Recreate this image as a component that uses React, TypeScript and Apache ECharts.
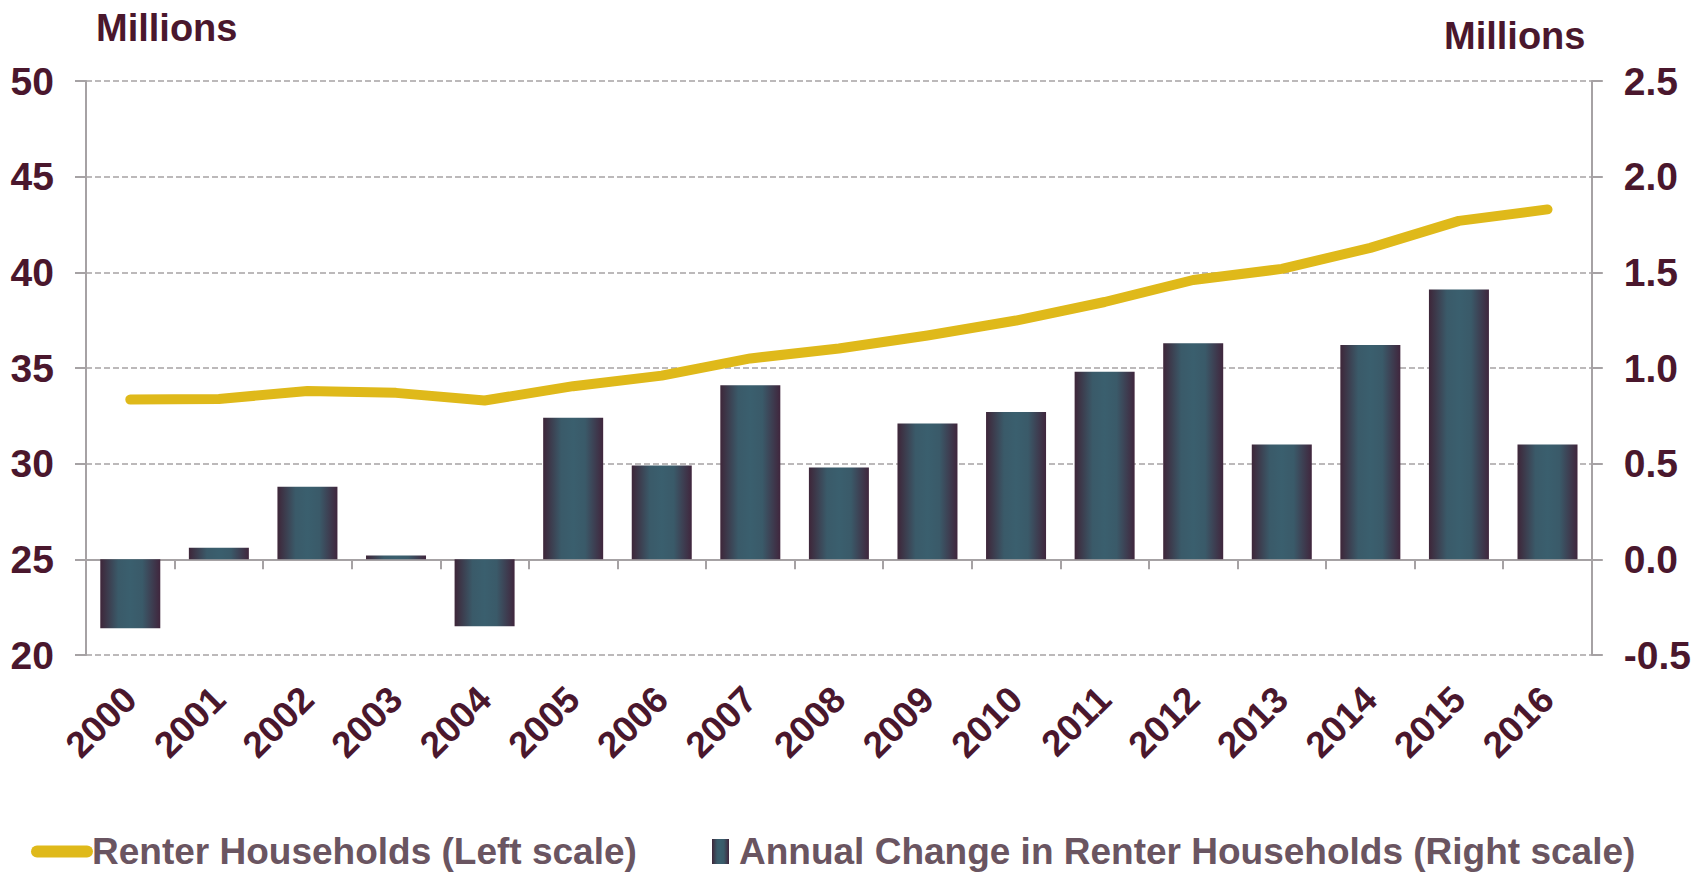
import React, { useEffect, useRef } from "react";
import * as echarts from "echarts";

const years = ["2000", "2001", "2002", "2003", "2004", "2005", "2006", "2007", "2008", "2009", "2010", "2011", "2012", "2013", "2014", "2015", "2016"];
const renterHouseholds = [33.35, 33.38, 33.8, 33.7, 33.3, 34.05, 34.6, 35.5, 36.02, 36.7, 37.48, 38.45, 39.6, 40.18, 41.28, 42.69, 43.29];
const annualChange = [-0.36, 0.06, 0.38, 0.02, -0.35, 0.74, 0.49, 0.91, 0.48, 0.71, 0.77, 0.98, 1.13, 0.6, 1.12, 1.41, 0.6];
const leftTicks = { min: 20, max: 50, interval: 5 };
const rightTicks = { min: -0.5, max: 2.5, interval: 0.5 };
const lineName = "Renter Households (Left scale)";
const barName = "Annual Change in Renter Households (Right scale)";
const unitLabel = "Millions";

const FONT = "'Liberation Sans', Arial, sans-serif";
const MAROON = "#4a172d";
const LEGEND_TEXT = "#6a5561";
const GOLD = "#dfb91a";
const AXIS_GRAY = "#a6a2a4";

export default function App() {
  const ref = useRef<HTMLDivElement>(null);
  useEffect(() => {
    document.body.style.margin = "0";
    if (!ref.current) return;
    const chart = echarts.init(ref.current, null, { renderer: "svg" });
    const barGradient = new echarts.graphic.LinearGradient(0, 0, 1, 0, [
      { offset: 0, color: "#3e2639" },
      { offset: 0.3, color: "#3a5a69" },
      { offset: 0.5, color: "#3a5f6e" },
      { offset: 0.7, color: "#3a5a69" },
      { offset: 1, color: "#40263d" },
    ]);
    chart.setOption({
      animation: false,
      textStyle: { fontFamily: FONT },
      grid: { left: 86, right: 99, top: 81, bottom: 217, containLabel: false },
      graphic: [
        {
          type: "text",
          left: 96,
          top: 9,
          style: { text: unitLabel, font: `bold 38px ${FONT}`, fill: MAROON },
        },
        {
          type: "text",
          left: 1444,
          top: 17,
          style: { text: unitLabel, font: `bold 38px ${FONT}`, fill: MAROON },
        },
      ],
      legend: [
        {
          data: [
            {
              name: lineName,
              icon: "path://M6,0 H56 A6,6 0 0 1 56,12 H6 A6,6 0 0 1 6,0 Z",
              itemStyle: { color: GOLD },
            },
          ],
          left: 26,
          top: 828,
          itemWidth: 62,
          itemHeight: 12,
          selectedMode: false,
          textStyle: { color: LEGEND_TEXT, fontSize: 37, fontWeight: "bold", fontFamily: FONT, padding: [0, 0, 0, -6] },
        },
        {
          data: [{ name: barName, icon: "rect" }],
          left: 707,
          top: 828,
          itemWidth: 17,
          itemHeight: 25,
          selectedMode: false,
          textStyle: { color: LEGEND_TEXT, fontSize: 37, fontWeight: "bold", fontFamily: FONT, padding: [0, 0, 0, 5] },
        },
      ],
      xAxis: {
        type: "category",
        data: years,
        boundaryGap: true,
        axisLine: { show: true, lineStyle: { color: AXIS_GRAY, width: 2 } },
        axisTick: { show: true, length: 10, lineStyle: { color: AXIS_GRAY, width: 2 } },
        axisLabel: {
          rotate: 45,
          margin: 38,
          color: MAROON,
          fontSize: 37,
          fontWeight: "bold",
          fontFamily: FONT,
          interval: 0,
        },
      },
      yAxis: [
        {
          type: "value",
          min: leftTicks.min,
          max: leftTicks.max,
          interval: leftTicks.interval,
          position: "left",
          axisLine: { show: true, lineStyle: { color: AXIS_GRAY, width: 2 } },
          axisTick: { show: true, length: 11, lineStyle: { color: AXIS_GRAY, width: 2 } },
          axisLabel: { margin: 32, color: MAROON, fontSize: 39, fontWeight: "bold", fontFamily: FONT },
          splitLine: { show: true, lineStyle: { color: AXIS_GRAY, width: 1.5, type: [6, 3] } },
        },
        {
          type: "value",
          min: rightTicks.min,
          max: rightTicks.max,
          interval: rightTicks.interval,
          position: "right",
          axisLine: { show: true, lineStyle: { color: AXIS_GRAY, width: 2 } },
          axisTick: { show: true, length: 11, lineStyle: { color: AXIS_GRAY, width: 2 } },
          axisLabel: {
            margin: 32,
            color: MAROON,
            fontSize: 39,
            fontWeight: "bold",
            fontFamily: FONT,
            formatter: (v: number) => v.toFixed(1),
          },
          splitLine: { show: false },
        },
      ],
      series: [
        {
          name: barName,
          type: "bar",
          yAxisIndex: 1,
          data: annualChange,
          barWidth: 60,
          itemStyle: { color: barGradient },
          z: 2,
        },
        {
          name: lineName,
          type: "line",
          yAxisIndex: 0,
          data: renterHouseholds,
          symbol: "none",
          lineStyle: { color: GOLD, width: 10, cap: "round", join: "round" },
          itemStyle: { color: GOLD },
          z: 3,
        },
      ],
    });
    return () => chart.dispose();
  }, []);
  return <div ref={ref} style={{ width: 1694, height: 872 }} />;
}
